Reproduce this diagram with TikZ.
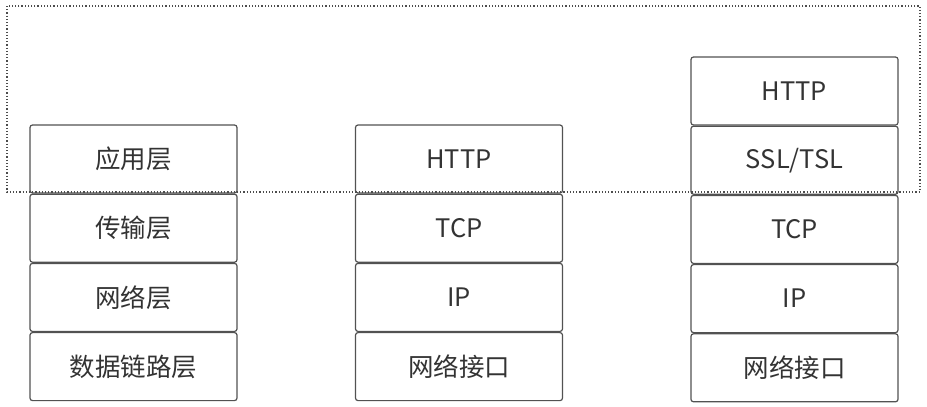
\documentclass[tikz,border=0pt]{standalone}
\usepackage{fontspec}
\setmainfont{Noto Sans CJK SC}
\usetikzlibrary{positioning}

\begin{document}
\begin{tikzpicture}[x=1pt, y=-1pt,
		layer/.style={draw=black!68, line width=1.2pt, rectangle, rounded corners=2.5pt, minimum width=207pt, minimum height=68pt, inner sep=0pt, text=black!80, font=\fontsize{25.5}{28}\selectfont}]
				\useasboundingbox (0, 0) rectangle (927, 407);
				% OSI-style layer names
				\node[layer] (app)at(133.5, 159) {应用层};
				\node[layer, below=0pt of app] (trans) {传输层};
				\node[layer, below=0pt of trans] (net) {网络层};
				\node[layer, below=0pt of net] (link) {数据链路层};
				% plain HTTP
				\node[layer] (http)at(459, 159) {HTTP};
				\node[layer, below=0pt of http] (tcp) {TCP};
				\node[layer, below=0pt of tcp] (ip) {IP};
				\node[layer, below=0pt of ip] (nic) {网络接口};
				% HTTPS
				\node[layer] (httpS)at(794.5, 91) {HTTP};
				\node[layer, below=0pt of httpS] (ssl) {SSL/TSL};
				\node[layer, below=0pt of ssl] (tcpS) {TCP};
				\node[layer, below=0pt of tcpS] (ipS) {IP};
				\node[layer, below=0pt of ipS] (nicS) {网络接口};
				\draw[black!70, line width=1.2pt, dotted] (7, 6) rectangle (920, 192);
			\end{tikzpicture}
\end{document}
